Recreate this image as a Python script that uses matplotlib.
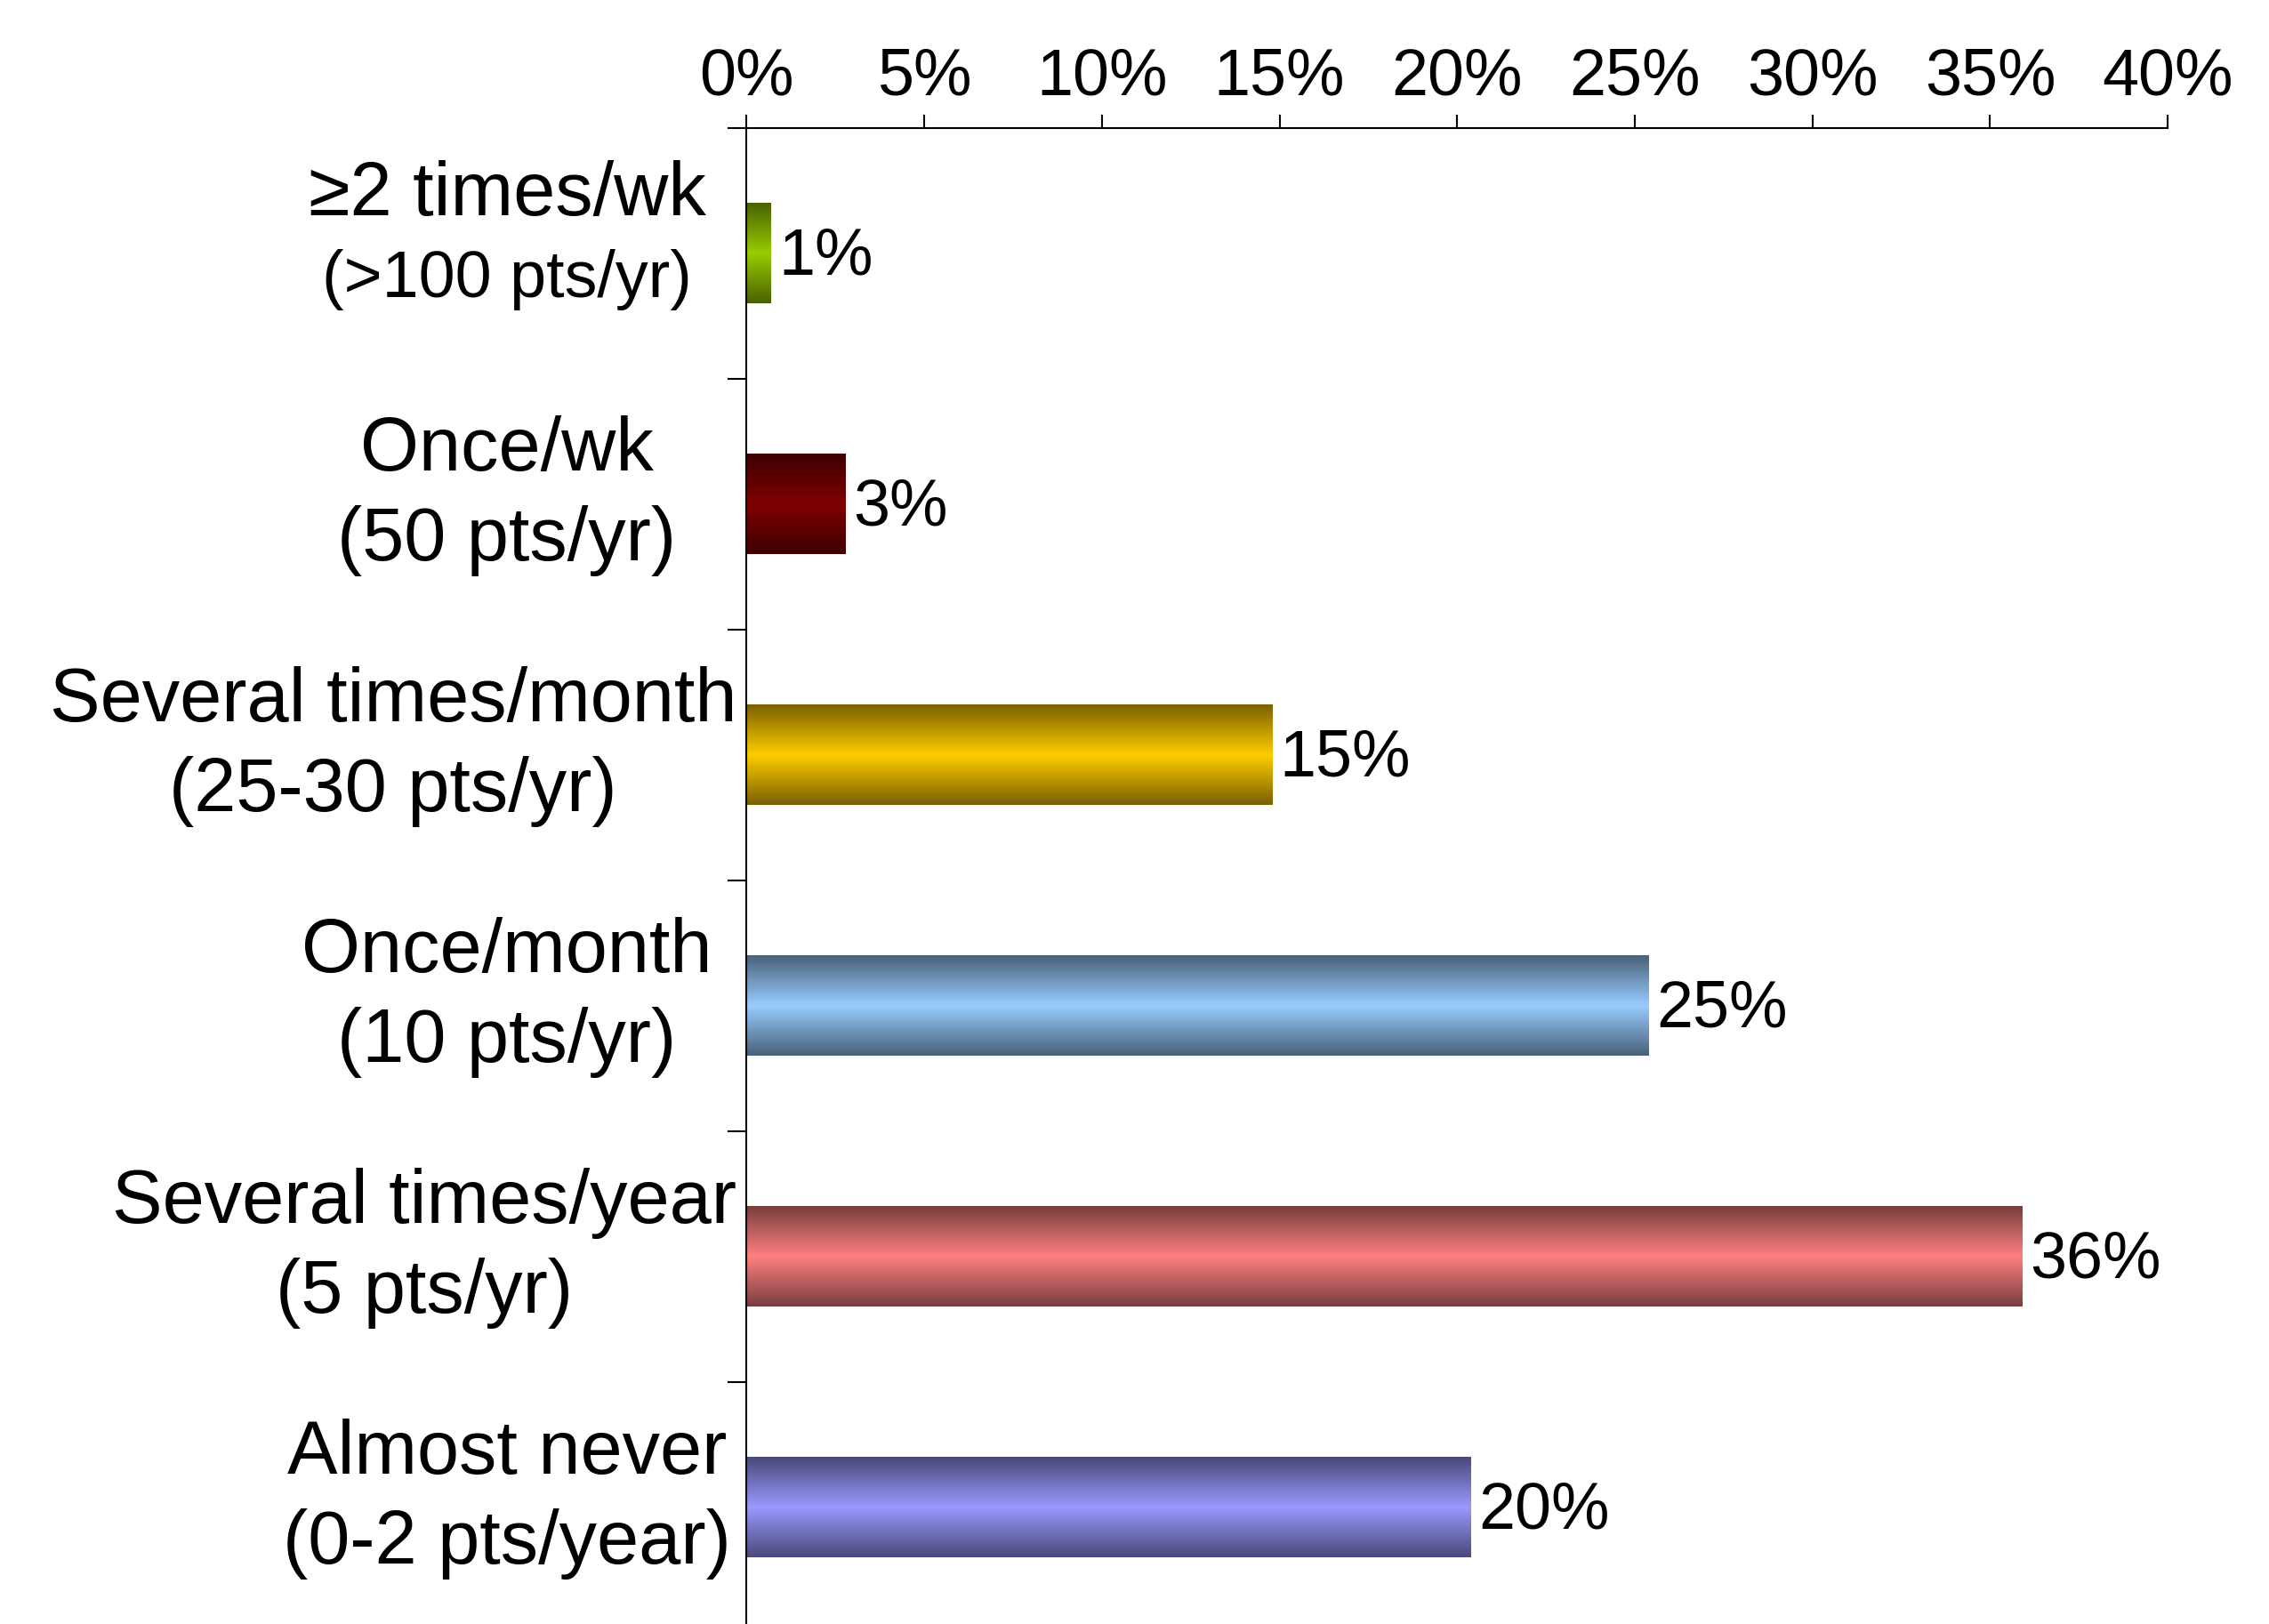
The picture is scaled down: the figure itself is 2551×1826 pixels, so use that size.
#!/usr/bin/env python3
"""
Horizontal bar chart: how often respondents see patients in each frequency band.
"""

import numpy as np
import matplotlib
matplotlib.use('Agg')
import matplotlib.pyplot as plt
from matplotlib.colors import to_rgb

plt.rcParams['font.family'] = ['Liberation Sans', 'DejaVu Sans']

# Categories, top to bottom
main_labels = ['\u22652 times/wk', 'Once/wk', 'Several times/month',
               'Once/month', 'Several times/year', 'Almost never']
sub_labels = ['(>100 pts/yr)', '(50 pts/yr)', '(25-30 pts/yr)',
              '(10 pts/yr)', '(5 pts/yr)', '(0-2 pts/year)']
# Share of respondents (%)
shares = [0.7, 2.8, 14.8, 25.4, 35.9, 20.4]
bar_colors = ['#99cc00', '#800000', '#ffcc00', '#99ccff', '#ff8080', '#9999ff']
xtick_values = [0, 5, 10, 15, 20, 25, 30, 35, 40]

LABEL_CENTER = -0.1685   # axes fraction
LABEL_RIGHT_LIMIT = -0.007


def gradient_image(color, n=64, edge=0.48):
    """Vertical strip: dark at top and bottom edges, full colour in the middle."""
    c = np.array(to_rgb(color))
    t = 1 - np.abs(np.linspace(-1, 1, n))
    col = c * edge + (c - c * edge) * t[:, None]
    return col[:, None, :]


fig = plt.figure(figsize=(25.51, 18.26), dpi=100)
ax = fig.add_axes([0.329, -0.0055, 0.6264, 0.9266])

y = np.arange(len(shares))
bars = ax.barh(y, shares, height=0.4, color='none', edgecolor='none', zorder=2)

for bar, color in zip(bars, bar_colors):
    x0, y0 = bar.get_x(), bar.get_y()
    w, h = bar.get_width(), bar.get_height()
    ax.imshow(gradient_image(color), extent=[x0, x0 + w, y0 + h, y0],
              aspect='auto', interpolation='bilinear', zorder=2)

# Value labels
for yi, v in zip(y, shares):
    ax.annotate(f'{v:.0f}%', xy=(v, yi), xytext=(6, -3), textcoords='offset points',
                ha='left', va='center', fontsize=53)

ax.set_xlim(0, 40)
ax.set_ylim(len(shares) - 0.5, -0.5)

# x axis on top
ax.xaxis.tick_top()
ax.set_xticks(xtick_values)
ax.set_xticklabels([f'{v}%' for v in xtick_values])
ax.tick_params(axis='x', direction='out', length=11, width=1.5, pad=5, labelsize=53)

# y ticks sit between categories
ax.set_yticks(np.arange(-0.5, len(shares), 1.0))
ax.set_yticklabels([])
ax.tick_params(axis='y', direction='out', length=15, width=1.5)

for side in ['right', 'bottom']:
    ax.spines[side].set_visible(False)
for side in ['top', 'left']:
    ax.spines[side].set_linewidth(1.5)

# Category labels: centred in the margin, pushed left when too long
trans = ax.get_yaxis_transform()
label_texts = [
    ax.text(LABEL_CENTER, 0 - 0.151, main_labels[0], transform=trans,
            ha='center', va='baseline', fontsize=61),
    ax.text(LABEL_CENTER, 0 + 0.172, sub_labels[0], transform=trans,
            ha='center', va='baseline', fontsize=53),
]
for yi, main, sub in zip(y[1:], main_labels[1:], sub_labels[1:]):
    # baseline alignment here follows the last line
    label_texts.append(
        ax.text(LABEL_CENTER, yi + 0.222, f'{main}\n{sub}', transform=trans,
                ha='center', va='baseline', multialignment='center',
                fontsize=61, linespacing=1.33))

fig.canvas.draw()
renderer = fig.canvas.get_renderer()
limit_px = ax.transAxes.transform((LABEL_RIGHT_LIMIT, 0))[0]
for t in label_texts:
    bb = t.get_window_extent(renderer)
    if bb.x1 > limit_px:
        t.set_x(t.get_position()[0] - (bb.x1 - limit_px) / ax.bbox.width)

fig.savefig('out.png', dpi=100)
plt.close(fig)
